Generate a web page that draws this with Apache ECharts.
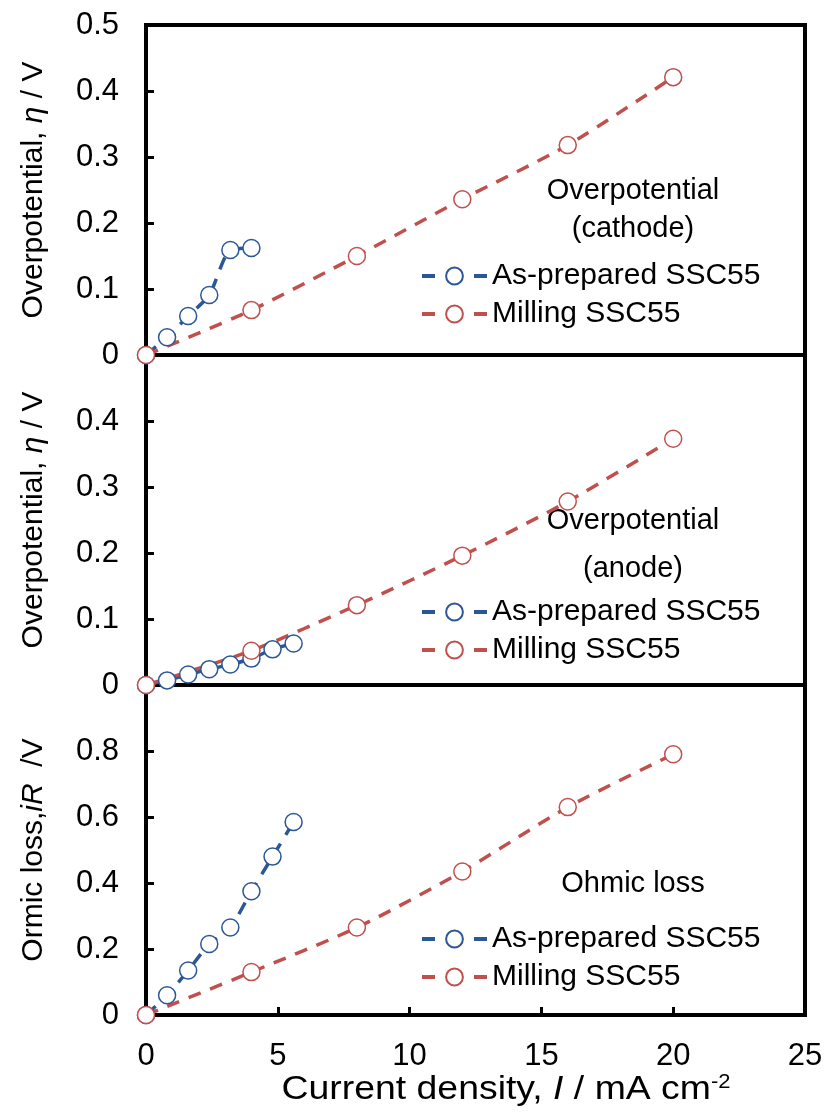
<!DOCTYPE html>
<html>
<head>
<meta charset="utf-8">
<script src="https://cdn.jsdelivr.net/npm/echarts@6/dist/echarts.min.js"></script>
<style>
  html, body { margin: 0; padding: 0; background: #fff; }
  #chart { width: 826px; height: 1115px; }
</style>
</head>
<body>
<div id="chart"></div>
<script>
// Current density (mA cm-2) at which each sample was measured
const currentAsPrepared = [0, 0.8, 1.6, 2.4, 3.2, 4.0, 4.8, 5.6];
const currentMilling = [0, 4, 8, 12, 16, 20];

// Cathode overpotential (V)
const cathodeAsPrepared = [0, 0.027, 0.059, 0.091, 0.159, 0.162];
const cathodeMilling = [0, 0.068, 0.150, 0.236, 0.318, 0.421];

// Anode overpotential (V)
const anodeAsPrepared = [0, 0.007, 0.016, 0.024, 0.031, 0.040, 0.054, 0.063];
const anodeMilling = [0, 0.052, 0.121, 0.196, 0.278, 0.373];

// Ohmic loss iR (V)
const ohmicAsPrepared = [0, 0.060, 0.135, 0.215, 0.265, 0.375, 0.480, 0.585];
const ohmicMilling = [0, 0.130, 0.265, 0.435, 0.630, 0.790];

const xTicks = [0, 5, 10, 15, 20, 25];
const seriesNames = ['As-prepared SSC55', 'Milling SSC55'];
const panelNotes = ['Overpotential\n(cathode)', 'Overpotential\n(anode)', 'Ohmic loss'];

const FONT = '"Liberation Sans", Arial, sans-serif';
const BLUE = '#2B5797';
const RED = '#C0504D';

function pairs(xs, ys) {
  return ys.map((y, i) => [xs[i], y]);
}

const panels = [
  { top: 25, max: 0.5, interval: 0.1, blue: cathodeAsPrepared, red: cathodeMilling,
    legendTop: 256, noteTop: 172, noteLine: 38 },
  { top: 355, max: 0.5, interval: 0.1, blue: anodeAsPrepared, red: anodeMilling,
    legendTop: 592, noteTop: 497, noteLine: 48 },
  { top: 685, max: 1.0, interval: 0.2, blue: ohmicAsPrepared, red: ohmicMilling,
    legendTop: 919, noteTop: 865, noteLine: 38 }
];

const GRID_LEFT = 146, GRID_W = 659, GRID_H = 330;

const grids = [], xAxes = [], yAxes = [], series = [], legends = [], graphics = [];

panels.forEach((p, i) => {
  const isBottom = i === panels.length - 1;
  grids.push({
    left: GRID_LEFT, top: p.top, width: GRID_W, height: GRID_H,
    show: true, borderColor: '#000', borderWidth: 4, backgroundColor: 'transparent'
  });
  xAxes.push({
    gridIndex: i, type: 'value', min: xTicks[0], max: xTicks[xTicks.length - 1], interval: 5,
    axisLine: { show: true, lineStyle: { color: '#000', width: 4 } },
    axisTick: { show: isBottom, inside: true, length: 8, lineStyle: { color: '#000', width: 3 } },
    axisLabel: { show: isBottom, color: '#000', fontSize: 31, fontFamily: FONT, margin: 26 },
    splitLine: { show: false }
  });
  yAxes.push({
    gridIndex: i, type: 'value', min: 0, max: p.max, interval: p.interval,
    axisLine: { show: true, lineStyle: { color: '#000', width: 4 } },
    axisTick: { show: true, inside: true, length: 8, lineStyle: { color: '#000', width: 3 } },
    axisLabel: {
      color: '#000', fontSize: 31, fontFamily: FONT, margin: 27,
      showMaxLabel: i === 0, showMinLabel: true
    },
    splitLine: { show: false },
    name: i === 2 ? '{n|Ormic loss,}{i|iR}{n|  /V}' : '{n|Overpotential, }{i|η}{n| / V}',
    nameLocation: 'middle', nameRotate: 90, nameGap: 97,
    nameTextStyle: {
      rich: {
        n: { fontSize: 30, fontFamily: FONT, color: '#000' },
        i: { fontSize: 30, fontFamily: FONT, color: '#000', fontStyle: 'italic' }
      }
    }
  });

  const common = {
    type: 'line', xAxisIndex: i, yAxisIndex: i,
    symbol: 'circle', symbolSize: 17, smooth: 0.25,
    z: 5
  };
  series.push(Object.assign({}, common, {
    name: seriesNames[0],
    data: pairs(currentAsPrepared, p.blue),
    lineStyle: { color: BLUE, width: 3.5, type: [13, 10] },
    itemStyle: { color: '#fff', borderColor: BLUE, borderWidth: 1.5 }
  }));
  series.push(Object.assign({}, common, {
    name: seriesNames[1],
    data: pairs(currentMilling, p.red),
    lineStyle: { color: RED, width: 3.5, type: [13, 10] },
    itemStyle: { color: '#fff', borderColor: RED, borderWidth: 1.5 }
  }));

  legends.push({
    data: seriesNames, orient: 'vertical', left: 415, top: p.legendTop,
    itemWidth: 65, itemHeight: 21, itemGap: 8, selectedMode: false,
    lineStyle: { type: [13, 39], width: 4 },
    textStyle: { fontSize: 30, fontFamily: FONT, color: '#000' }
  });

  // panel note, centred horizontally at x = 633 px
  graphics.push({
    type: 'text', x: 633, top: p.noteTop,
    style: {
      text: panelNotes[i], fill: '#000',
      font: '29px ' + FONT, textAlign: 'center', lineHeight: p.noteLine
    }
  });
});

// x-axis title, set slightly wide under the bottom panel
graphics.push({
  type: 'text', x: 506, y: 1090, scaleX: 1.1,
  style: {
    text: '{n|Current density, }{i|I}{n| / mA cm}{s|-2}',
    textAlign: 'center', textVerticalAlign: 'middle',
    rich: {
      n: { fontSize: 34, fontFamily: FONT, fill: '#000' },
      i: { fontSize: 34, fontFamily: FONT, fill: '#000', fontStyle: 'italic' },
      s: { fontSize: 20, fontFamily: FONT, fill: '#000', verticalAlign: 'top', padding: [0, 0, 16, 0] }
    }
  }
});

const chart = echarts.init(document.getElementById('chart'), null, { renderer: 'canvas' });
chart.setOption({
  backgroundColor: '#fff',
  animation: false,
  grid: grids,
  xAxis: xAxes,
  yAxis: yAxes,
  legend: legends,
  series: series,
  graphic: graphics
});
</script>
</body>
</html>
